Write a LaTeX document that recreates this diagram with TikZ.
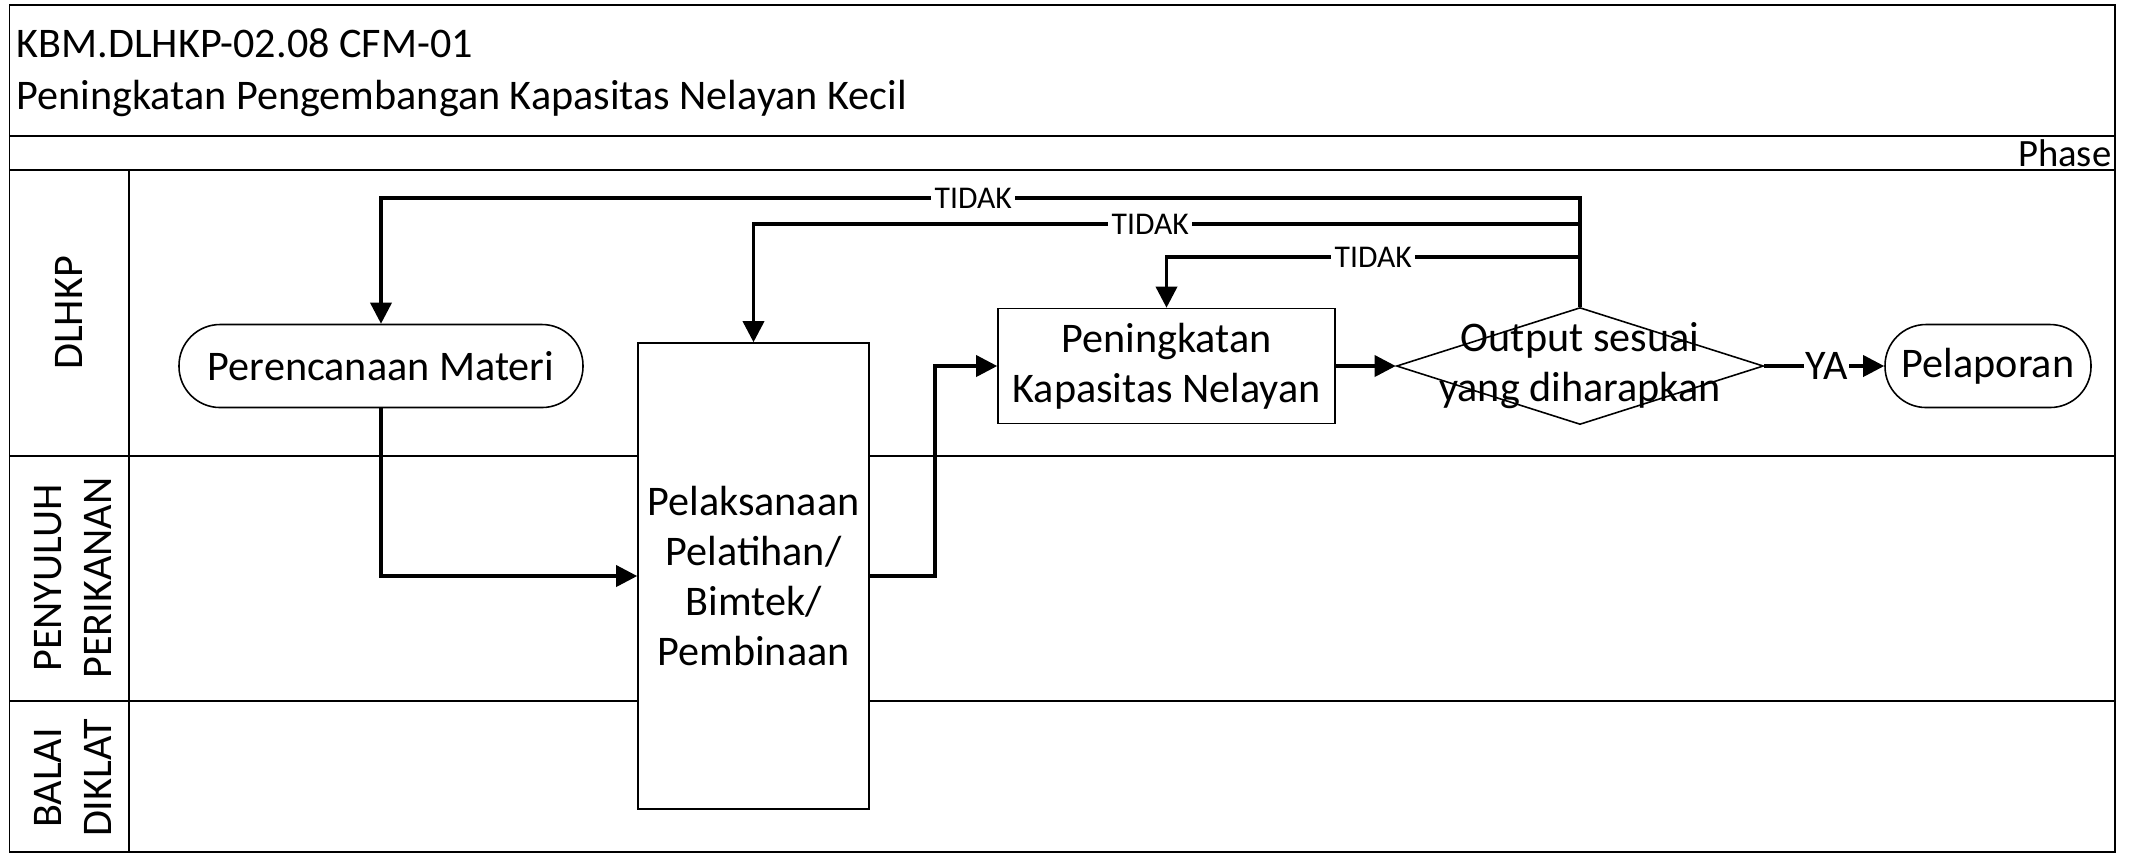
\documentclass[tikz,border=0pt]{standalone}
\usepackage{fontspec}
\setmainfont{Carlito}
\usepackage{tikz}
\usetikzlibrary{arrows.meta,positioning,shapes.geometric}

\begin{document}
\begin{tikzpicture}[
  font=\fontsize{12}{14.2}\selectfont,
  frame/.style={draw=black,line width=0.45pt},
  process/.style={draw=black,line width=0.45pt,fill=white,align=center,
    inner sep=2pt},
  terminal/.style={process,rounded corners=0.41cm,minimum height=0.83cm},
  decision/.style={draw=black,line width=0.45pt,fill=white,diamond,
    inner sep=0pt,minimum width=3.67cm,minimum height=1.17cm},
  lanename/.style={rotate=90,align=center,font=\fontsize{12}{14}\selectfont},
  flow/.style={-{Triangle[length=6pt,width=6pt]},line width=1pt},
  answer/.style={fill=white,inner sep=1pt,font=\fontsize{9}{10}\selectfont}
]
  \useasboundingbox (0,0) rectangle (21.34,-8.53);

  % header, phase row and swimlanes
  \draw[frame] (0.095,-0.05) rectangle (21.15,-8.52);
  \draw[frame] (0.095,-1.36) -- (21.15,-1.36);
  \draw[frame] (0.095,-1.70) -- (21.15,-1.70);
  \draw[frame] (0.095,-4.56) -- (21.15,-4.56);
  \draw[frame] (0.095,-7.01) -- (21.15,-7.01);
  \draw[frame] (1.29,-1.70) -- (1.29,-8.52);

  \node[anchor=base west,inner sep=0pt] (code) at (0.16,-0.57)
    {KBM.DLHKP-02.08 CFM-01};
  \node[anchor=base west,inner sep=0pt] (title) at (0.16,-1.09)
    {Peningkatan Pengembangan Kapasitas Nelayan Kecil};
  \node[anchor=base east,inner sep=0pt,font=\fontsize{11}{13}\selectfont] (phase) at (21.12,-1.66) {Phase};

  \node[lanename] (dlhkp) at (0.69,-3.13) {DLHKP};
  \node[lanename] (penyuluh) at (0.73,-5.78) {PENYULUH\\PERIKANAN};
  \node[lanename] (balai) at (0.73,-7.78) {BALAI\\DIKLAT};

  % steps
  \node[terminal,minimum width=4.04cm] (plan) at (3.81,-3.66) {Perencanaan Materi};
  \node[process,minimum width=2.31cm,minimum height=4.66cm] (exec) at (7.535,-5.76)
    {Pelaksanaan\\Pelatihan/\\Bimtek/\\Pembinaan};
  \node[process,minimum width=3.37cm,minimum height=1.15cm] (cap) at (11.665,-3.66)
    {Peningkatan\\Kapasitas Nelayan};
  \node[decision,label={[align=center,font=\fontsize{12}{14.2}\selectfont]center:Output sesuai\\yang diharapkan}]
    (dec) at (15.80,-3.66) {};
  \node[terminal,minimum width=2.06cm] (report) at (19.88,-3.66) {Pelaporan};

  % loop-back levels above the DLHKP lane
  \coordinate (back1) at (0,-1.98);
  \coordinate (back2) at (0,-2.24);
  \coordinate (back3) at (0,-2.57);

  \draw[flow] (plan.south) |- (exec.west);
  \draw[flow] (exec.east) -- ++(0.65,0) |- (cap.west);
  \draw[flow] (cap.east) -- (dec.west);
  \draw[flow] (dec.east) -- node[fill=white,inner sep=0.5pt,pos=0.52] {YA} (report.west);

  \draw[flow] (dec.north) |- node[answer,pos=0.753] {TIDAK} (plan.north |- back1) -- (plan.north);
  \draw[flow] (dec.north) |- node[answer,pos=0.76] {TIDAK} (exec.north |- back2) -- (exec.north);
  \draw[flow] (dec.north) |- node[answer,pos=0.75] {TIDAK} (cap.north |- back3) -- (cap.north);
\end{tikzpicture}
\end{document}
